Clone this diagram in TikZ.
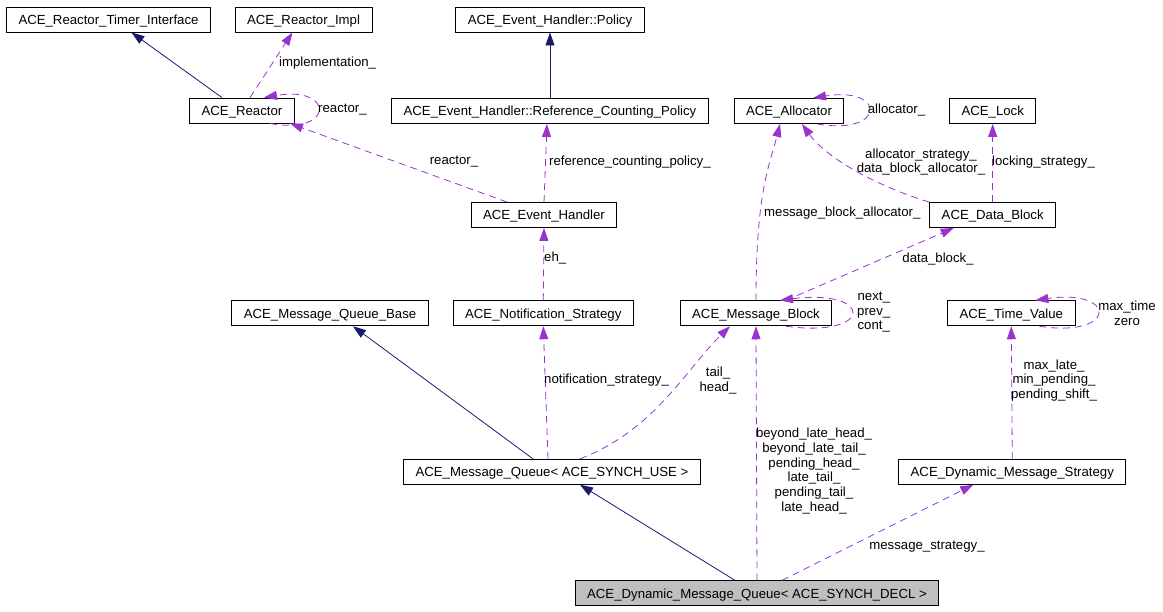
\documentclass[tikz,border=0pt]{standalone}
\usepackage{fontspec}
\setmainfont{Liberation Sans}
\usepackage{tikz}
\usetikzlibrary{arrows.meta,positioning}
\definecolor{inhblue}{HTML}{191970}
\definecolor{usepurple}{HTML}{9A32CD}

\begin{document}
\begin{tikzpicture}[
        x=1pt, y=-1pt,
        font=\fontsize{13.2}{14.7}\selectfont,
        cls/.style={rectangle, draw, line width=0.9pt, minimum height=25pt, inner xsep=12pt, inner ysep=0pt, text height=12pt, text depth=2.6pt},
        focus/.style={cls, fill=black!25},
        inherit/.style={draw=inhblue, line width=0.8pt, -{Triangle[length=13pt,width=9pt]}},
        member/.style={draw=usepurple, line width=0.8pt, dash pattern=on 7pt off 5pt, -{Triangle[length=13pt,width=9pt]}},
        lbl/.style={align=center, inner sep=0pt}
    ]
        \useasboundingbox (0,0) rectangle (1163,611);

        % Top row
        \node[cls] (timer) at (108.5,19.5) {ACE\_Reactor\_Timer\_Interface};
        \node[cls] (impl) at (303.5,19.5) {ACE\_Reactor\_Impl};
        \node[cls] (policy) at (550,19.5) {ACE\_Event\_Handler::Policy};

        % Second row
        \node[cls] (reactor) at (242,110.5) {ACE\_Reactor};
        \node[cls] (refpolicy) at (550,111) {ACE\_Event\_Handler::Reference\_Counting\_Policy};
        \node[cls] (allocator) at (789,111) {ACE\_Allocator};
        \node[cls] (lock) at (992.7,111) {ACE\_Lock};

        % Third row
        \node[cls] (handler) at (544,215) {ACE\_Event\_Handler};
        \node[cls] (datablock) at (992.7,215) {ACE\_Data\_Block};

        % Fourth row
        \node[cls] (mqbase) at (330,313.3) {ACE\_Message\_Queue\_Base};
        \node[cls] (notify) at (543.3,313.3) {ACE\_Notification\_Strategy};
        \node[cls] (msgblock) at (756,313.3) {ACE\_Message\_Block};
        \node[cls] (timevalue) at (1011.3,313.3) {ACE\_Time\_Value};

        % Queue and strategy
        \node[cls] (msgqueue) at (552,471.8) {ACE\_Message\_Queue< ACE\_SYNCH\_USE >};
        \node[cls] (dynstrategy) at (1012.3,471.8) {ACE\_Dynamic\_Message\_Strategy};

        % Documented class
        \node[focus] (dynqueue) at (757,593.3) {ACE\_Dynamic\_Message\_Queue< ACE\_SYNCH\_DECL >};

        % Inheritance
        \draw[inherit] ([xshift=-20pt]reactor.north) -- ([xshift=23pt]timer.south);
        \draw[inherit] (refpolicy.north) -- (policy.south);
        \draw[inherit] ([xshift=-19pt]msgqueue.north) -- ([xshift=23pt]mqbase.south);
        \draw[inherit] ([xshift=-22pt]dynqueue.north) -- ([xshift=28pt]msgqueue.south);

        % Usage
        \draw[member] ([xshift=8pt]reactor.north) -- ([xshift=-11pt]impl.south);
        \draw[member] ([xshift=28pt]reactor.south) .. controls ([xshift=40pt,yshift=-12pt]reactor.south east) and ([xshift=40pt,yshift=12pt]reactor.north east) .. ([xshift=22pt]reactor.north);
        \draw[member] ([xshift=-37pt]handler.north) -- ([xshift=48pt]reactor.south);
        \draw[member] (handler.north) -- ([xshift=-3pt]refpolicy.south);
        \draw[member] (notify.north) -- (handler.south);
        \draw[member] ([xshift=-4pt]msgqueue.north) -- (notify.south);
        \draw[member] ([xshift=28pt]msgqueue.north) .. controls +(75,-29) and +(-45,44) .. ([xshift=-26pt]msgblock.south);
        \draw[member] (dynqueue.north) -- (msgblock.south);
        \draw[member] ([xshift=25pt]dynqueue.north) -- ([xshift=-39pt]dynstrategy.south);
        \draw[member] (dynstrategy.north) -- (timevalue.south);
        \draw[member] ([xshift=28pt]timevalue.south) .. controls ([xshift=42pt,yshift=-12pt]timevalue.south east) and ([xshift=42pt,yshift=12pt]timevalue.north east) .. ([xshift=24pt]timevalue.north);
        \draw[member] ([xshift=30pt]msgblock.south) .. controls ([xshift=42pt,yshift=-12pt]msgblock.south east) and ([xshift=42pt,yshift=12pt]msgblock.north east) .. ([xshift=24pt]msgblock.north);
        \draw[member] (msgblock.north) .. controls +(0,-110) and +(-10,40) .. ([xshift=-9pt]allocator.south);
        \draw[member] ([xshift=30pt]msgblock.north) -- ([xshift=-39pt]datablock.south);
        \draw[member] (datablock.north west) .. controls +(-50,-15) and +(25,35) .. ([xshift=13pt]allocator.south);
        \draw[member] (datablock.north) -- (lock.south);
        \draw[member] ([xshift=28pt]allocator.south) .. controls ([xshift=42pt,yshift=-12pt]allocator.south east) and ([xshift=42pt,yshift=12pt]allocator.north east) .. ([xshift=24pt]allocator.north);

        % Labels
        \node[lbl, anchor=west] (lImpl) at (279,63) {implementation\_};
        \node[lbl, anchor=west] (lReactorSelf) at (318,110) {reactor\_};
        \node[lbl] (lReactor) at (454,162) {reactor\_};
        \node[lbl, anchor=west] (lRefPolicy) at (549,162) {reference\_counting\_policy\_};
        \node[lbl, anchor=west] (lEh) at (544,258) {eh\_};
        \node[lbl, anchor=west] (lNotify) at (544,380) {notification\_strategy\_};
        \node[lbl] (lTailHead) at (718,380.5) {tail\_\\head\_};
        \node[lbl] (lPending) at (814,471) {beyond\_late\_head\_\\beyond\_late\_tail\_\\pending\_head\_\\late\_tail\_\\pending\_tail\_\\late\_head\_};
        \node[lbl] (lStrategy) at (927,546.7) {message\_strategy\_};
        \node[lbl] (lShift) at (1054,380.3) {max\_late\_\\min\_pending\_\\pending\_shift\_};
        \node[lbl] (lTime) at (1127,313) {max\_time\\zero};
        \node[lbl, anchor=west] (lNext) at (857,312.3) {next\_\\prev\_\\cont\_};
        \node[lbl, anchor=west] (lMbAlloc) at (764,213) {message\_block\_allocator\_};
        \node[lbl] (lDataBlock) at (938,259) {data\_block\_};
        \node[lbl] (lDbAlloc) at (921,162) {allocator\_strategy\_\\data\_block\_allocator\_};
        \node[lbl, anchor=west] (lLocking) at (992,161.7) {locking\_strategy\_};
        \node[lbl, anchor=west] (lAlloc) at (867.7,110) {allocator\_};
    \end{tikzpicture}
\end{document}
